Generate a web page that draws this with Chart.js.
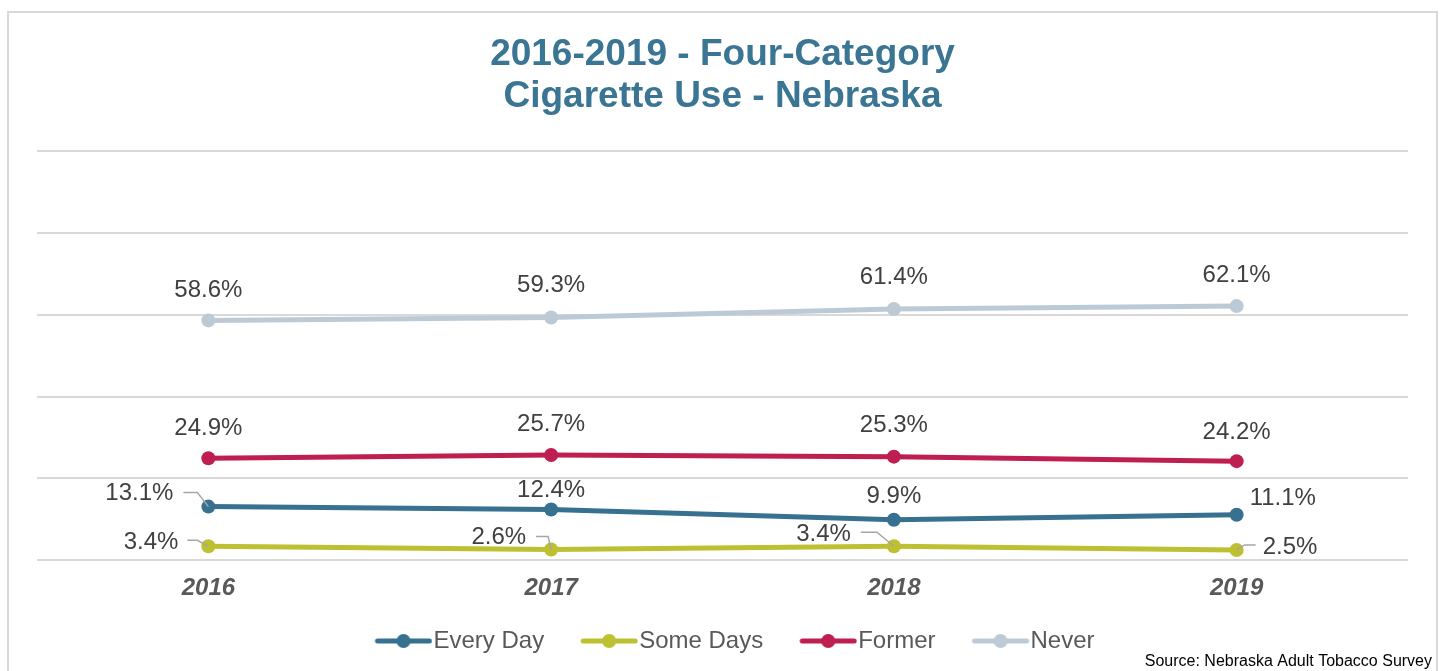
<!DOCTYPE html>
<html><head><meta charset="utf-8">
<script src="https://cdn.jsdelivr.net/npm/chart.js@4.4.1/dist/chart.umd.min.js"></script>
<style>html,body{margin:0;padding:0;background:#fff;}#wrap{width:1445px;height:671px;position:relative;}</style>
</head><body><div id="wrap"><canvas id="c" width="1445" height="671"></canvas></div>
<script>
const years = ["2016", "2017", "2018", "2019"];
const everyDay = [13.1, 12.4, 9.9, 11.1];
const someDays = [3.4, 2.6, 3.4, 2.5];
const former = [24.9, 25.7, 25.3, 24.2];
const never = [58.6, 59.3, 61.4, 62.1];
const seriesNames = ["Every Day", "Some Days", "Former", "Never"];
const titleLines = ["2016-2019 - Four-Category", "Cigarette Use - Nebraska"];
const sourceText = "Source: Nebraska Adult Tobacco Survey";

const colors = ["#37718f", "#bdc030", "#be1e50", "#bccad6"];
const FONT = '"Liberation Sans", Arial, sans-serif';
// label placement relative to the point: [dx, dy, align, leader points]
const labelPos = [
  [[-35, -13, "right", [[-25,-14],[-11,-14],[0,0]]], [0, -19, "center"], [0, -23, "center"], [13, -16, "left", null]],
  [[-30, -4, "right", [[-21,-6],[-11,-6],[0,0]]], [-25, -12, "right", [[-15,-13],[-3,-13],[0,0]]], [-43, -12, "right", [[-33,-14],[-17,-14],[0,0]]], [26, -3, "left", [[19,-5],[8,-5],[0,0]]]],
  [[0, -30, "center"], [0, -31, "center"], [0, -31, "center"], [0, -29, "center"]],
  [[0, -30, "center"], [0, -32, "center"], [0, -32, "center"], [0, -31, "center"]]
];

const LEG_PW = 71;
function legendIcon(color){
  const W = LEG_PW + 22;
  const c = document.createElement('canvas');
  c.width = W; c.height = 18;
  const x = c.getContext('2d');
  const x1 = W - 1, x0 = x1 - 56;
  x.strokeStyle = color; x.lineWidth = 5; x.lineCap = 'round';
  x.beginPath(); x.moveTo(x0 + 2, 9); x.lineTo(x1 - 2, 9); x.stroke();
  x.fillStyle = color; x.beginPath(); x.arc((x0 + x1) / 2, 9, 7, 0, Math.PI*2); x.fill();
  return c;
}
const icons = colors.map(legendIcon);

const allData = [everyDay, someDays, former, never];

const framePlugin = {
  id: 'frame',
  beforeDraw(chart){
    const ctx = chart.ctx;
    ctx.save();
    ctx.strokeStyle = '#d9d9d9'; ctx.lineWidth = 2;
    ctx.strokeRect(8, 12, 1429, 670);
    ctx.restore();
  },
  afterDraw(chart){
    const ctx = chart.ctx;
    ctx.save();
    ctx.font = '16px ' + FONT;
    ctx.fillStyle = '#000';
    ctx.textAlign = 'right'; ctx.textBaseline = 'middle';
    ctx.fillText(sourceText, 1432, 662);
    ctx.restore();
  }
};

const labelPlugin = {
  id: 'labels',
  afterDatasetsDraw(chart){
    const ctx = chart.ctx;
    ctx.save();
    ctx.font = '24px ' + FONT;
    ctx.fillStyle = '#404040';
    ctx.textBaseline = 'middle';
    chart.data.datasets.forEach((ds, di) => {
      const meta = chart.getDatasetMeta(di);
      meta.data.forEach((pt, i) => {
        const p = labelPos[di][i];
        const x = pt.x, y = pt.y;
        if (p[3]) {
          ctx.strokeStyle = '#a6a6a6'; ctx.lineWidth = 1.5;
          ctx.beginPath();
          p[3].forEach((q, k) => { if (k===0) ctx.moveTo(x+q[0], y+q[1]); else ctx.lineTo(x+q[0], y+q[1]); });
          ctx.stroke();
        }
        ctx.textAlign = p[2];
        ctx.fillText(ds.data[i].toFixed(1) + '%', x + p[0], y + p[1]);
      });
    });
    ctx.restore();
  }
};

new Chart(document.getElementById('c'), {
  type: 'line',
  data: {
    labels: years,
    datasets: allData.map((d, i) => ({
      label: seriesNames[i],
      data: d,
      borderColor: colors[i],
      backgroundColor: colors[i],
      borderWidth: 5,
      pointRadius: 7,
      pointHoverRadius: 7,
      pointBackgroundColor: colors[i],
      pointBorderWidth: 0,
      tension: 0,
      fill: false
    }))
  },
  options: {
    responsive: false,
    animation: false,
    events: [],
    layout: { padding: { left: 37, right: 37, top: 10, bottom: 8 } },
    scales: {
      y: {
        min: 0, max: 100,
        ticks: { display: false, stepSize: 20 },
        grid: { color: '#d9d9d9', lineWidth: 2, drawTicks: false },
        border: { display: false }
      },
      x: {
        offset: true,
        grid: { display: false, drawTicks: false },
        border: { display: false },
        ticks: { color: '#595959', padding: 14, font: { family: FONT, size: 24, weight: 'bold', style: 'italic' } }
      }
    },
    plugins: {
      tooltip: { enabled: false },
      title: {
        display: true,
        text: titleLines,
        color: '#3a7593',
        font: { family: FONT, size: 37, weight: 'bold', lineHeight: 1.135 },
        padding: { top: 24, bottom: 33 }
      },
      legend: {
        position: 'bottom',
        labels: {
          usePointStyle: true,
          pointStyleWidth: LEG_PW,
          boxHeight: 18,
          padding: 12,
          color: '#595959',
          font: { family: FONT, size: 24 },
          generateLabels(chart){
            return chart.data.datasets.map((ds, i) => ({
              text: ds.label,
              fillStyle: colors[i],
              strokeStyle: colors[i],
              lineWidth: 0,
              pointStyle: icons[i],
              fontColor: '#595959',
              datasetIndex: i,
              hidden: false
            }));
          }
        }
      }
    }
  },
  plugins: [framePlugin, labelPlugin]
});
</script>
</body></html>
